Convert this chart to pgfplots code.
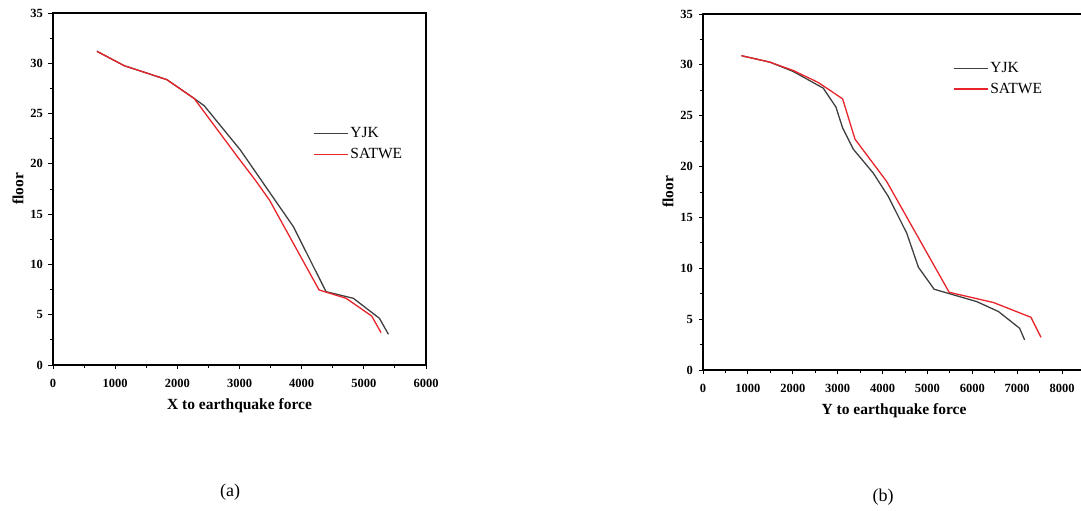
\documentclass[border=0pt]{standalone}
\usepackage{fontspec}
\setmainfont{Liberation Serif}
\usepackage{pgfplots}
\pgfplotsset{compat=1.18}
\definecolor{yjk}{RGB}{64,64,64}
\definecolor{sat}{RGB}{232,36,42}
\begin{document}
\begin{tikzpicture}[x=1pt,y=1pt]
\useasboundingbox (0,0) rectangle (1081,511);
\pgfplotsset{
 common/.style={
  scale only axis,
  ymin=0, ymax=35, ytick={0,5,...,35},
  minor x tick num=1, minor y tick num=1,
  tick align=outside, tick pos=left,
  axis line style={line width=1.1pt},
  major tick length=4.5pt, minor tick length=3pt,
  every tick/.style={black, line width=0.9pt},
  scaled ticks=false,
  /pgf/number format/assume math mode=true,
  /pgf/number format/1000 sep={},
  ticklabel style={font=\fontsize{12.5}{12.5}\selectfont\bfseries},
  xticklabel style={yshift=-6pt},
  yticklabel style={xshift=-2pt},
  label style={font=\fontsize{15.5}{16}\selectfont\bfseries},
  xlabel style={yshift=-4pt},
  ylabel={floor},
  legend style={draw=none, fill=none, font=\fontsize{15.5}{16}\selectfont, anchor=north west, row sep=5pt, inner sep=0pt, cells={anchor=west}},
  legend image code/.code={\draw[##1, line width=1.3pt] (0pt,0pt) -- (34pt,0pt);},
  every axis plot/.append style={line width=1.3pt, mark=none},
 }
}
\begin{axis}[common, at={(53pt,146pt)}, anchor=south west,
  width=373pt, height=352pt,
  xmin=0, xmax=6000, xtick={0,1000,...,6000},
  xlabel={X to earthquake force},
  legend style={at={(0.697,0.68)}}]
\addplot[yjk] coordinates {(707,31.19) (1146,29.76) (1832,28.37) (2271,26.5) (2432,25.78) (3011,21.4) (3867,13.75) (4392,7.29) (4832,6.63) (5251,4.64) (5396,3.05)};
\addlegendentry{YJK}
\addplot[sat] coordinates {(707,31.19) (1146,29.76) (1832,28.37) (2271,26.5) (2984,20.57) (3252,18.4) (3482,16.4) (4280,7.46) (4715,6.63) (5127,4.87) (5277,3.21)};
\addlegendentry{SATWE}
\end{axis}
\begin{axis}[common, at={(703pt,141pt)}, anchor=south west,
  width=382pt, height=356pt,
  xmin=0, xmax=8512, xtick={0,1000,...,8000},
  xlabel={Y to earthquake force},
  legend style={at={(0.654,0.87)}}]
\addplot[yjk] coordinates {(856,30.9) (1488,30.27) (2009,29.35) (2679,27.71) (2962,25.85) (3111,23.8) (3349,21.71) (3795,19.35) (4130,17.05) (4540,13.45) (4800,10.1) (5150,7.94) (6102,6.72) (6586,5.74) (7055,4.10) (7167,2.95)};
\addlegendentry{YJK}
\addplot[sat] coordinates {(856,30.9) (1488,30.27) (2009,29.45) (2567,28.27) (3111,26.66) (3386,22.7) (4093,18.53) (5485,7.64) (6475,6.63) (7308,5.18) (7531,3.21)};
\addlegendentry{SATWE}
\end{axis}
\node[font=\fontsize{18}{18}\selectfont] at (230,19) {(a)};
\node[font=\fontsize{18}{18}\selectfont] at (883,14) {(b)};
\end{tikzpicture}
\end{document}
